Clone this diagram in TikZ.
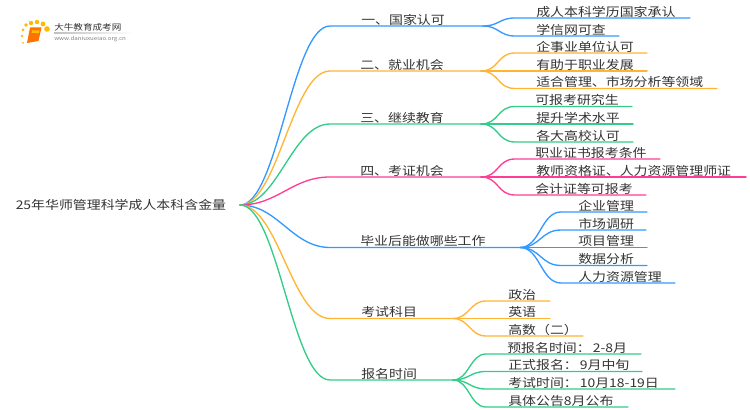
\documentclass[tikz,border=0pt]{standalone}
\usepackage{fontspec}
\setmainfont[FakeStretch = 1.16]{Noto Sans CJK SC}

\definecolor{lineblue}{HTML}{3399FF}
\definecolor{lineorange}{HTML}{FFB433}
\definecolor{linegreen}{HTML}{33CC88}
\definecolor{linepink}{HTML}{FF3D94}
\definecolor{inkgray}{HTML}{333333}

\tikzset{
	label/.style = {anchor = base west, inner sep = 0 pt, yshift = -1.1 pt, text = inkgray, font = \fontsize{9 pt}{10 pt}\selectfont},
	wire/.style = {line width = 1 pt, line cap = round},
	dot/.style = {fill = orange!55!yellow, draw = none}
}

\begin{document}
\begin{tikzpicture}[x = 0.75 pt, y = -0.75 pt]

	\useasboundingbox (0, 0) rectangle (750, 410);

	% Logo
	
	\fill [dot] (26, 25) circle (1.8) (31, 23) circle (2.2) (37, 22) circle (2.2) (43, 24) circle (2.4)
		(47, 29) circle (2.8) (23, 30) circle (1.5) (22, 36) circle (1.3) (23, 43) circle (1);
	\fill [orange!90!red] (30, 27.5) -- (41.5, 27.5) -- (38.5, 41) -- (27, 43) -- cycle;
	\fill [orange!50!yellow] (32, 30.5) -- (39.5, 30.5) -- (39, 33) -- (31.5, 33) -- cycle;
	\fill [left color = gray!50, right color = white] (54, 33) rectangle (133, 33.6);
	\node [label, font = \fontsize{6.2 pt}{7 pt}\selectfont] (logotitle) at (54, 29) {大牛教育成考网};
	\node [label, text = gray, font = \fontsize{4 pt}{5 pt}\selectfont] (logourl) at (54, 39) {www.daniuxueiao.org.cn};

	% Root
	
	\node [label] (root) at (15.5, 208) {25年华师管理科学成人本科含金量};
	\coordinate (rootF) at (240, 205);

	% One
	
	\coordinate (oneB) at (330, 26);
	\coordinate (oneF) at (483, 26);
	\node [label] (one) at (361, 23) {一、国家认可};
	\draw [wire, lineblue] (rootF) .. controls +(38, 0) and +(-38, 0) .. (oneB) -- (oneF);
	
	\coordinate (oneAs) at (515, 18);
	\coordinate (oneAe) at (690, 18);
	\node [label] (oneA) at (536, 15) {成人本科学历国家承认};
	\draw [wire, lineblue] (oneF) .. controls +(16, 0) and +(-16, 0) .. (oneAs) -- (oneAe);
	
	\coordinate (oneBs) at (515, 36);
	\coordinate (oneBe) at (619, 36);
	\node [label] (oneBt) at (536, 33) {学信网可查};
	\draw [wire, lineblue] (oneF) .. controls +(16, 0) and +(-16, 0) .. (oneBs) -- (oneBe);

	% Two
	
	\coordinate (twoB) at (330, 71);
	\coordinate (twoF) at (481, 71);
	\node [label] (two) at (360, 68) {二、就业机会};
	\draw [wire, lineorange] (rootF) .. controls +(38, 0) and +(-38, 0) .. (twoB) -- (twoF);
	
	\coordinate (twoAs) at (515, 53);
	\coordinate (twoAe) at (647, 53);
	\node [label] (twoA) at (536, 50) {企事业单位认可};
	\draw [wire, lineorange] (twoF) .. controls +(18, 0) and +(-18, 0) .. (twoAs) -- (twoAe);
	
	\coordinate (twoBe) at (647, 71);
	\node [label] (twoBt) at (536, 68) {有助于职业发展};
	\draw [wire, lineorange] (twoF) -- (twoBe);
	
	\coordinate (twoCs) at (515, 88.5);
	\coordinate (twoCe) at (717, 88.5);
	\node [label] (twoC) at (536, 85.5) {适合管理、市场分析等领域};
	\draw [wire, lineorange] (twoF) .. controls +(18, 0) and +(-18, 0) .. (twoCs) -- (twoCe);

	% Three
	
	\coordinate (threeB) at (330, 124);
	\coordinate (threeF) at (481, 124);
	\node [label] (three) at (360, 121) {三、继续教育};
	\draw [wire, linegreen] (rootF) .. controls +(38, 0) and +(-38, 0) .. (threeB) -- (threeF);
	
	\coordinate (threeAs) at (515, 106.5);
	\coordinate (threeAe) at (632, 106.5);
	\node [label] (threeA) at (535, 103.5) {可报考研究生};
	\draw [wire, linegreen] (threeF) .. controls +(18, 0) and +(-18, 0) .. (threeAs) -- (threeAe);
	
	\coordinate (threeBe) at (633, 124);
	\node [label] (threeBt) at (536, 121) {提升学术水平};
	\draw [wire, linegreen] (threeF) -- (threeBe);
	
	\coordinate (threeCs) at (515, 142);
	\coordinate (threeCe) at (633, 142);
	\node [label] (threeC) at (536, 139) {各大高校认可};
	\draw [wire, linegreen] (threeF) .. controls +(18, 0) and +(-18, 0) .. (threeCs) -- (threeCe);

	% Four
	
	\coordinate (fourB) at (330, 177);
	\coordinate (fourF) at (481, 177);
	\node [label] (four) at (360, 174) {四、考证机会};
	\draw [wire, linepink] (rootF) .. controls +(38, 0) and +(-38, 0) .. (fourB) -- (fourF);
	
	\coordinate (fourAs) at (515, 159);
	\coordinate (fourAe) at (660, 159);
	\node [label] (fourA) at (535, 156) {职业证书报考条件};
	\draw [wire, linepink] (fourF) .. controls +(18, 0) and +(-18, 0) .. (fourAs) -- (fourAe);
	
	\coordinate (fourBe) at (746, 177);
	\node [label] (fourBt) at (536, 174) {教师资格证、人力资源管理师证};
	\draw [wire, linepink] (fourF) -- (fourBe);
	
	\coordinate (fourCs) at (515, 195);
	\coordinate (fourCe) at (646, 195);
	\node [label] (fourC) at (535, 192) {会计证等可报考};
	\draw [wire, linepink] (fourF) .. controls +(18, 0) and +(-18, 0) .. (fourCs) -- (fourCe);

	% Jobs
	
	\coordinate (jobB) at (330, 247.5);
	\coordinate (jobF) at (520, 247.5);
	\node [label] (job) at (360, 244.5) {毕业后能做哪些工作};
	\draw [wire, lineblue] (rootF) .. controls +(38, 0) and +(-38, 0) .. (jobB) -- (jobF);
	
	\coordinate (jobAs) at (561, 212);
	\coordinate (jobAe) at (647, 212);
	\node [label] (jobA) at (578, 209) {企业管理};
	\draw [wire, lineblue] (jobF) .. controls +(20, 0) and +(-20, 0) .. (jobAs) -- (jobAe);
	
	\coordinate (jobBs) at (561, 230);
	\coordinate (jobBe) at (646, 230);
	\node [label] (jobBt) at (578, 227) {市场调研};
	\draw [wire, lineblue] (jobF) .. controls +(20, 0) and +(-20, 0) .. (jobBs) -- (jobBe);
	
	\coordinate (jobCe) at (647, 247.5);
	\node [label] (jobC) at (578, 244.5) {项目管理};
	\draw [wire, lineblue] (jobF) -- (jobCe);
	
	\coordinate (jobDs) at (561, 265.5);
	\coordinate (jobDe) at (647, 265.5);
	\node [label] (jobD) at (578, 262.5) {数据分析};
	\draw [wire, lineblue] (jobF) .. controls +(20, 0) and +(-20, 0) .. (jobDs) -- (jobDe);
	
	\coordinate (jobEs) at (561, 283);
	\coordinate (jobEe) at (675, 283);
	\node [label] (jobE) at (578, 280) {人力资源管理};
	\draw [wire, lineblue] (jobF) .. controls +(20, 0) and +(-20, 0) .. (jobEs) -- (jobEe);

	% Subjects
	
	\coordinate (subB) at (330, 318.5);
	\coordinate (subF) at (453, 318.5);
	\node [label] (sub) at (361, 315.5) {考试科目};
	\draw [wire, lineorange] (rootF) .. controls +(38, 0) and +(-38, 0) .. (subB) -- (subF);
	
	\coordinate (subAs) at (486, 301);
	\coordinate (subAe) at (550, 301);
	\node [label] (subA) at (508, 298) {政治};
	\draw [wire, lineorange] (subF) .. controls +(16, 0) and +(-16, 0) .. (subAs) -- (subAe);
	
	\coordinate (subBe) at (550, 318.5);
	\node [label] (subBt) at (508, 315.5) {英语};
	\draw [wire, lineorange] (subF) -- (subBe);
	
	\coordinate (subCs) at (486, 336);
	\coordinate (subCe) at (583, 336);
	\node [label] (subC) at (508, 333) {高数（二）};
	\draw [wire, lineorange] (subF) .. controls +(16, 0) and +(-16, 0) .. (subCs) -- (subCe);

	% Dates
	
	\coordinate (dateB) at (330, 380);
	\coordinate (dateF) at (453, 380);
	\node [label] (date) at (361, 377) {报名时间};
	\draw [wire, linegreen] (rootF) .. controls +(38, 0) and +(-38, 0) .. (dateB) -- (dateF);
	
	\coordinate (dateAs) at (486, 354);
	\coordinate (dateAe) at (641, 354);
	\node [label] (dateA) at (507, 351) {预报名时间：\,2-8月};
	\draw [wire, linegreen] (dateF) .. controls +(16, 0) and +(-16, 0) .. (dateAs) -- (dateAe);
	
	\coordinate (dateBs) at (486, 371.5);
	\coordinate (dateBe) at (642, 371.5);
	\node [label] (dateBt) at (508, 368.5) {正式报名：\,9月中旬};
	\draw [wire, linegreen] (dateF) .. controls +(16, 0) and +(-16, 0) .. (dateBs) -- (dateBe);
	
	\coordinate (dateCs) at (486, 389);
	\coordinate (dateCe) at (675, 389);
	\node [label] (dateC) at (508, 386) {考试时间：\,10月18-19日};
	\draw [wire, linegreen] (dateF) .. controls +(16, 0) and +(-16, 0) .. (dateCs) -- (dateCe);
	
	\coordinate (dateDs) at (486, 407);
	\coordinate (dateDe) at (628, 407);
	\node [label] (dateD) at (508, 404) {具体公告8月公布};
	\draw [wire, linegreen] (dateF) .. controls +(16, 0) and +(-16, 0) .. (dateDs) -- (dateDe);

\end{tikzpicture}
\end{document}
